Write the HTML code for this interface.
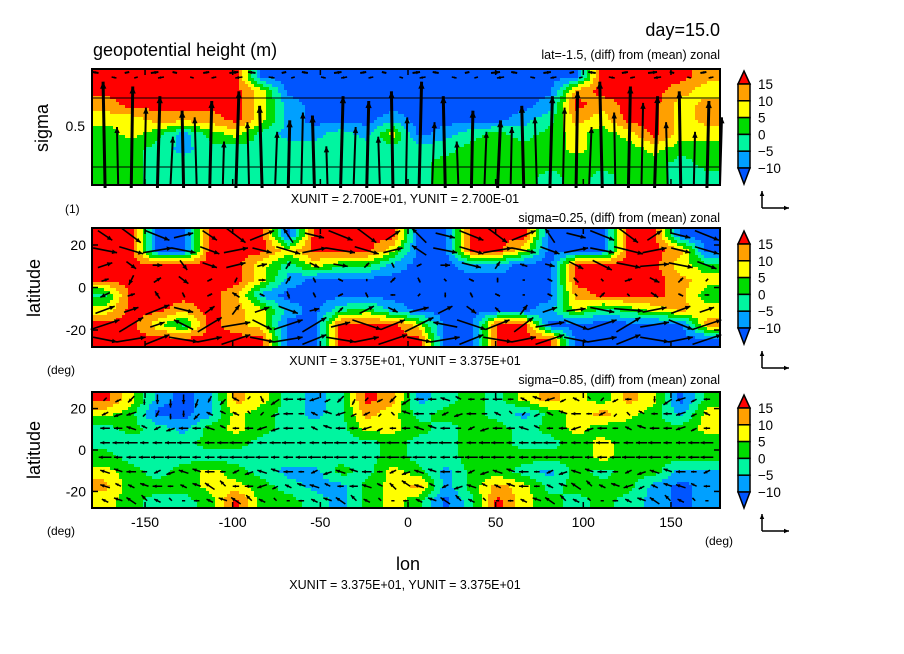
<!DOCTYPE html>
<html><head><meta charset="utf-8">
<style>
html,body{margin:0;padding:0;background:#fff;}
svg{display:block;font-family:"Liberation Sans",sans-serif;}
.t{fill:#000;}
</style></head>
<body>
<svg id="chart" width="904" height="654" viewBox="0 0 904 654">
<text class="t" x="720" y="36" font-size="18" text-anchor="end">day=15.0</text>
<text class="t" x="93" y="56" font-size="18">geopotential height (m)</text>
<text class="t" x="720" y="59" font-size="12.5" text-anchor="end">lat=-1.5, (diff) from (mean) zonal</text>
<text class="t" x="48" y="128" font-size="18" text-anchor="middle" transform="rotate(-90 48 128)">sigma</text>
<text class="t" x="85" y="131" font-size="14" text-anchor="end">0.5</text>
<text class="t" x="65" y="213" font-size="12">(1)</text>
<text class="t" x="405" y="203" font-size="12.5" text-anchor="middle">XUNIT = 2.700E+01, YUNIT = 2.700E-01</text>
<text class="t" x="720" y="222" font-size="12.5" text-anchor="end">sigma=0.25, (diff) from (mean) zonal</text>
<text class="t" x="40" y="288" font-size="18" text-anchor="middle" transform="rotate(-90 40 288)">latitude</text>
<text class="t" x="47" y="374" font-size="12">(deg)</text>
<text class="t" x="405" y="365" font-size="12.5" text-anchor="middle">XUNIT = 3.375E+01, YUNIT = 3.375E+01</text>
<text class="t" x="720" y="384" font-size="12.5" text-anchor="end">sigma=0.85, (diff) from (mean) zonal</text>
<text class="t" x="40" y="450" font-size="18" text-anchor="middle" transform="rotate(-90 40 450)">latitude</text>
<text class="t" x="47" y="535" font-size="12">(deg)</text>
<text class="t" x="705" y="545" font-size="12">(deg)</text>
<text class="t" x="408" y="570" font-size="18" text-anchor="middle">lon</text>
<text class="t" x="405" y="589" font-size="12.5" text-anchor="middle">XUNIT = 3.375E+01, YUNIT = 3.375E+01</text>
</svg>
<script>
const lonTicks=[-150,-100,-50,0,50,100,150];
const latTicks=[20,0,-20];
const levels=[15,10,5,0,-5,-10];
const levelLabels=["15","10","5","0","\u22125","\u221210"];
const field1=[
[17,17,17,17,17,17,-12,-12,-12,-12,-12,-12,-12,-12,-12,-12,-12,-12,-12,17,17,17,17,12],
[17,17,17,17,17,17,7,-12,-12,-12,-12,-12,-12,-12,-12,-12,-12,-12,12,17,17,17,12,7],
[12,17,17,17,17,17,7,-7,-12,-12,-12,-12,-12,-12,-12,-12,-12,-7,17,12,17,17,7,12],
[7,7,12,12,12,17,7,-7,-12,-12,-12,-7,-12,-12,-12,-12,-7,-2,12,7,17,17,7,12],
[2,7,2,-7,2,7,-2,-7,-7,-2,-7,7,-12,-7,-2,2,-2,2,7,2,7,17,7,7],
[2,2,-2,-7,-2,-2,-2,-2,-2,-2,-2,-2,-2,-2,2,2,2,2,7,2,2,7,2,2],
[2,2,-2,-2,-2,-2,-2,-2,-2,-2,-2,-2,-2,2,2,2,2,2,2,2,2,2,-2,2],
[2,2,-2,-2,-2,-2,-2,-2,-2,-2,-2,-2,-2,2,2,2,2,-2,2,-2,2,2,-2,-2]];
const field2=[
[17,17,-12,-12,17,17,17,-12,17,17,17,17,-12,-12,17,17,17,-12,-12,-12,17,17,-12,-12],
[17,17,-12,-12,17,17,17,7,17,17,17,7,-12,-12,17,17,7,-12,-12,-12,17,17,12,-12],
[17,17,17,17,17,17,7,-2,7,2,2,-7,-12,-12,-7,-7,-12,-12,17,17,17,17,7,2],
[17,17,17,17,17,17,7,-7,-12,-12,-12,-12,-12,-12,-12,-12,-12,-12,17,17,17,17,12,7],
[-2,17,17,17,17,12,-7,-12,-12,-12,-12,-12,-12,-12,-12,-12,-12,-12,12,17,17,17,12,2],
[7,17,17,12,17,12,7,-7,-12,-2,2,-7,-12,-12,-12,-12,-12,-7,7,-2,2,7,12,7],
[17,17,7,-2,17,12,7,-12,-12,17,17,17,7,-12,-12,17,17,-12,-12,-12,-12,-12,-12,12],
[17,17,17,17,17,17,17,-12,-12,17,17,17,17,-12,-12,17,17,17,-12,-12,-12,-12,-12,-12]];
const field3=[
[17,7,-7,-12,-7,12,7,-2,-7,-2,17,12,-7,-2,2,-2,7,12,7,2,12,7,-12,2],
[7,2,-12,-12,-7,7,2,-2,-7,-2,12,7,-2,2,2,-2,-7,2,7,12,7,2,-7,7],
[-2,2,-2,-7,2,7,2,-2,-2,-2,7,7,2,-2,2,2,-2,2,7,2,2,2,2,7],
[-2,-2,-2,-2,2,2,-2,-2,-2,-2,-2,2,-2,-2,2,2,-2,-2,2,7,2,2,2,2],
[2,-2,-2,-2,-2,-2,-2,-2,-2,-2,-2,2,-2,-2,2,2,2,2,2,7,2,2,2,2],
[7,2,-2,2,7,2,-2,-7,-7,2,-2,7,2,-7,2,2,-2,-7,2,-2,2,2,-7,-7],
[12,2,2,2,7,7,2,-2,-7,-7,2,7,12,-7,2,12,7,-2,2,2,2,-7,-12,-7],
[7,2,-2,-2,2,17,2,2,-2,-7,2,7,2,-12,-2,17,7,2,-2,2,-2,-7,-12,-7]];
const w1=[110,105,95,80,90,100,85,70,75,95,90,100,110,95,80,70,85,95,100,110,105,95,100,90];
const w1b=[60,80,50,70,45,65,55,75,40,60,50,70,65,45,55,60,70,80,60,75,85,65,55,70];
const uTop1=[-4,3,5,-3,4,6,-5,3,-4,5,4,-3,5,-4,3,6,-4,5,3,-5,4,6,-3,4];
const u2=[
[6,8,10,8,6,8,10,-4,8,10,8,6,-6,8,10,8,10,-4,8,10,8,6,8,10],
[10,10,12,10,8,10,8,10,10,12,10,8,-6,10,10,12,10,8,10,10,12,10,8,10],
[6,4,4,3,6,8,4,2,4,6,2,1,2,4,8,2,-3,4,6,8,10,12,10,8],
[3,-2,3,4,2,-1,3,2,1,-2,0,2,1,-1,2,0,1,2,-2,1,3,4,2,1],
[-4,3,-2,1,2,-3,2,1,-1,2,1,-2,1,0,-1,2,1,-2,1,2,-1,3,-2,2],
[8,6,10,8,4,3,6,8,4,2,6,4,8,6,4,-2,3,6,8,10,12,10,8,6],
[12,10,6,-8,10,12,8,12,10,8,12,10,12,-10,12,10,8,12,10,12,10,12,10,12],
[10,12,10,12,10,12,10,12,10,12,10,12,10,12,10,12,10,12,10,12,10,12,10,12]];
const v2=[
[-4,-6,-4,2,-4,-6,4,6,-2,-4,-6,4,6,-2,-4,-6,4,6,-2,-4,-6,4,-2,-4],
[-2,-3,2,-2,-3,2,-2,-3,2,-2,-3,2,4,-2,-3,2,-2,-3,2,-2,-3,2,-2,-3],
[2,-3,0,-4,-2,2,1,3,-2,-1,2,-2,1,0,-2,3,1,-1,-3,-4,-2,1,-2,-3],
[1,-4,2,-3,1,-2,0,3,-2,1,-1,2,-2,1,-1,2,0,-1,2,-1,1,-2,2,1],
[-2,1,3,-2,1,2,-1,-3,2,1,-2,0,1,-2,2,-1,0,1,-1,2,1,-2,1,0],
[3,2,4,-2,3,4,2,-3,1,2,3,-2,2,3,-3,2,4,2,1,-2,-1,2,3,2],
[4,6,2,4,6,2,-4,4,6,2,-4,4,6,2,-4,4,6,2,-4,4,6,2,-4,4],
[-2,2,4,-2,2,4,-2,2,4,-2,2,4,-2,2,4,-2,2,4,-2,2,4,-2,2,4]];
const u3=[
[-1,-2,0,0,-1,-2,1,-3,-3,-2,-1,-2,-3,-3,-2,-3,-2,-3,-2,-1,-2,0,-3,-2],
[-2,-3,-1,0,-2,-2,-1,-3,-2,-3,-2,-1,-3,-2,-3,-2,-1,-2,-3,-2,-1,-2,-3,-2],
[-3,-3,-2,-3,-3,-2,-3,-3,-2,-3,-3,-2,-3,-3,-2,-3,-3,-2,-3,-3,-2,-3,-3,-2],
[-3,-4,-3,-4,-3,-4,-3,-4,-3,-4,-3,-4,-3,-4,-3,-4,-3,-4,-3,-4,-3,-4,-3,-4],
[-4,-3,-4,-4,-3,-4,-4,-3,-4,-4,-3,-4,-4,-3,-4,-4,-3,-4,-4,-3,-4,-4,-3,-4],
[-3,-3,-2,-3,-3,-2,-3,-3,-2,-3,-3,-2,-3,-3,-2,-3,-3,-2,-3,-3,-2,-3,-3,-2],
[-3,-2,-3,-2,-3,-2,-3,-2,-3,-2,-3,-2,-3,-2,-3,-2,-3,-2,-3,-2,-3,-2,-3,-2],
[-2,-3,-2,-1,-2,-3,-2,-1,-2,-3,-2,-1,-2,-3,-2,-1,-2,-3,-2,-1,-2,-3,-2,-1]];
const v3=[
[-1,-2,-3,-3,-2,1,-2,0,-1,-2,-1,-2,0,1,0,0,1,-1,1,-1,0,-2,-1,0],
[-1,-1,-2,-2,1,1,-1,0,1,-1,-1,1,0,-1,0,1,-1,1,0,-1,1,0,-1,1],
[0,1,-1,0,1,0,-1,0,1,0,-1,0,1,0,-1,0,1,0,-1,0,1,0,-1,0],
[0,0,0,0,0,0,0,0,0,0,0,0,0,0,0,0,0,0,0,0,0,0,0,0],
[0,0,0,0,0,0,0,0,0,0,0,0,0,0,0,0,0,0,0,0,0,0,0,0],
[1,0,-1,1,0,-1,1,0,-1,1,0,-1,1,0,-1,1,0,-1,1,0,-1,1,0,-1],
[1,1,0,1,2,0,-1,1,1,0,1,2,1,-1,1,1,0,1,2,1,-1,1,1,0],
[1,2,1,0,1,2,1,0,1,2,1,0,1,2,1,0,1,2,1,0,1,2,1,0]];

const NS="http://www.w3.org/2000/svg";
const svg=document.getElementById('chart');
const colors=["#ff0000","#ffa000","#ffff00","#00dc00","#00f5a0","#00a0ff","#0055ff"];
function colorOf(v){for(let i=0;i<levels.length;i++){if(v>=levels[i])return colors[i];}return colors[6];}
function el(tag,attrs,parent){const e=document.createElementNS(NS,tag);for(const k in attrs)e.setAttribute(k,attrs[k]);(parent||svg).appendChild(e);return e;}
const panels=[{x:92,y:69,w:628,h:116},{x:92,y:228,w:628,h:119},{x:92,y:392,w:628,h:116}];
function xOfLon(lon){return 408+lon*1.753;}
function sample(grid,fx,fy){
  const R=grid.length,C=grid[0].length;
  let cx=fx*C-0.5, cy=fy*R-0.5;
  cx=Math.max(0,Math.min(C-1,cx)); cy=Math.max(0,Math.min(R-1,cy));
  const x0=Math.floor(cx),y0=Math.floor(cy),x1=Math.min(C-1,x0+1),y1=Math.min(R-1,y0+1);
  const tx=cx-x0,ty=cy-y0;
  return (grid[y0][x0]*(1-tx)+grid[y0][x1]*tx)*(1-ty)+(grid[y1][x0]*(1-tx)+grid[y1][x1]*tx)*ty;
}
function drawField(p,grid,name){
  const g=el('g',{});
  
  
  const s=3;
  function flush(x0,x1,y,hh,c){
    const r=el('rect',{x:p.x+x0,y:p.y+y,width:x1-x0+0.5,height:hh+0.3,fill:c},g);
    
    
  }
  for(let y=0;y<p.h;y+=s){
    const hh=Math.min(s,p.h-y);
    let runStart=0,runCol=null;
    for(let x=0;x<p.w;x+=s){
      const c=colorOf(sample(grid,(x+s/2)/p.w,(y+s/2)/p.h));
      if(c!==runCol){
        if(runCol!==null) flush(runStart,x,y,hh,runCol);
        runStart=x;runCol=c;
      }
    }
    flush(runStart,p.w,y,hh,runCol);
  }
}
function arrow(g,x,y,dx,dy,sw,hl){
  const len=Math.hypot(dx,dy); if(len<0.5)return;
  const a=el('g',{},g);
  
  
  el('line',{x1:x,y1:y,x2:x+dx,y2:y+dy,stroke:'#000','stroke-width':sw},a);
  const ux=dx/len,uy=dy/len,h=Math.min(hl,len*0.5);
  el('polygon',{points:`${x+dx},${y+dy} ${x+dx-ux*h-uy*h*0.45},${y+dy-uy*h+ux*h*0.45} ${x+dx-ux*h+uy*h*0.45},${y+dy-uy*h-ux*h*0.45}`,fill:'#000'},a);
}
drawField(panels[0],field1,'panel1');
drawField(panels[1],field2,'panel2');
drawField(panels[2],field3,'panel3');

(function(){
  const p=panels[0];const g=el('g',{});
  
  
  const C=w1.length,cw=p.w/C;
  for(let c=0;c<C;c++){
    const x=p.x+cw*(c+0.5);
    arrow(g,x,p.y+p.h+3,uTop1[c]*0.5,-w1[c]*(p.h/120),3,7);
    arrow(g,x+cw*0.5,p.y+p.h,uTop1[(c+3)%C]*0.4,-w1b[c]*(p.h/120),2,6);
    arrow(g,x-cw*0.25,p.y+4,uTop1[c]*1.5,-1,2,4);
    arrow(g,x+cw*0.25,p.y+8,-uTop1[c]*1.2,1,1.5,4);
  }
  el('line',{x1:p.x,y1:p.y+29,x2:p.x+p.w,y2:p.y+29,stroke:'#000','stroke-width':1},g);
  el('line',{x1:p.x,y1:p.y+98,x2:p.x+p.w,y2:p.y+98,stroke:'#000','stroke-width':1},g);
})();
function gridVectors(p,U,V,scale,sw,hl,name){
  const g=el('g',{});
  
  
  const R=U.length,C=U[0].length;
  for(let r=0;r<R;r++)for(let c=0;c<C;c++){
    const x=p.x+p.w*(c+0.5)/C,y=p.y+p.h*(r+0.5)/R;
    arrow(g,x-U[r][c]*scale/2,y+V[r][c]*scale/2,U[r][c]*scale,-V[r][c]*scale,sw,hl);
  }
}
gridVectors(panels[1],u2,v2,2.4,1.6,5,'panel2-vectors');
gridVectors(panels[2],u3,v3,3.2,1.5,4,'panel3-vectors');
(function(){
  const p=panels[2];const g=el('g',{});
  
  
  const R=u3.length,C=u3[0].length;
  for(let r=0;r<R;r++)for(let c=0;c<C-1;c++){
    const x=p.x+p.w*(c+1)/C,y=p.y+p.h*(r+0.5)/R;
    arrow(g,x-u3[r][c+1]*1.4,y,u3[r][c+1]*2.8,-v3[r][c]*2.8,1.5,4);
  }
})();

panels.forEach((p,i)=>{
  const f=el('rect',{x:p.x,y:p.y,width:p.w,height:p.h,fill:'none',stroke:'#000','stroke-width':2});
  
  
  lonTicks.forEach(l=>{
    const x=xOfLon(l);
    el('line',{x1:x,y1:p.y+p.h,x2:x,y2:p.y+p.h-6,stroke:'#000','stroke-width':1.5});
    el('line',{x1:x,y1:p.y,x2:x,y2:p.y+6,stroke:'#000','stroke-width':1.5});
  });
  if(i>0){
    latTicks.forEach(lat=>{
      const y=p.y+p.h/2-lat*(p.h/2)/28;
      el('line',{x1:p.x,y1:y,x2:p.x+6,y2:y,stroke:'#000','stroke-width':1.5});
      el('line',{x1:p.x+p.w,y1:y,x2:p.x+p.w-6,y2:y,stroke:'#000','stroke-width':1.5});
      const t=el('text',{x:86,y:y+5,'font-size':14,'text-anchor':'end',fill:'#000'});
      t.textContent=String(lat);
      
      
    });
  }
});
lonTicks.forEach(l=>{
  const t=el('text',{x:xOfLon(l),y:527,'font-size':14,'text-anchor':'middle',fill:'#000'});
  t.textContent=String(l);
  
  
});
[0,160,324].forEach((off,i)=>{
  const g=el('g',{});
  
  
  const x0=738,x1=750,top=84+off,seg=16.8;
  el('polygon',{points:`${(x0+x1)/2},${top-13} ${x1},${top} ${x0},${top}`,fill:colors[0],stroke:'#000','stroke-width':1.5},g);
  for(let k=1;k<=5;k++){
    el('rect',{x:x0,y:top+(k-1)*seg,width:x1-x0,height:seg,fill:colors[k],stroke:'#000','stroke-width':1.5},g);
  }
  const bot=top+5*seg;
  el('polygon',{points:`${x0},${bot} ${x1},${bot} ${(x0+x1)/2},${bot+16}`,fill:colors[6],stroke:'#000','stroke-width':1.5},g);
  levelLabels.forEach((lab,k)=>{
    const t=el('text',{x:758,y:top+k*seg+5,'font-size':13.5,fill:'#000'},g);
    t.textContent=lab;
    
    
  });
  const u=el('g',{});
  
  
  const uy=208+off+(i==2?-1:0);
  arrow(u,762,uy,0,-17,1.5,5);
  arrow(u,762,uy,27,0,1.5,5);
});
</script>
</body></html>
